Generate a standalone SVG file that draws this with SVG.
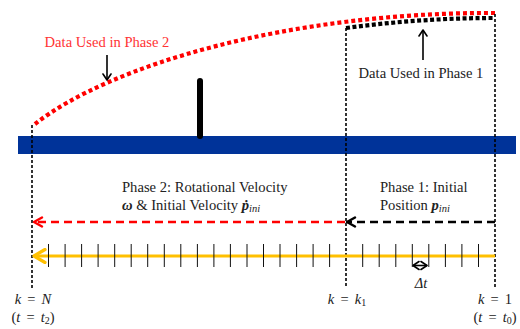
<svg xmlns="http://www.w3.org/2000/svg" width="520" height="329" viewBox="0 0 520 329">
<style>
.t{font-family:"Liberation Serif","Times New Roman",serif;font-size:14.6px;fill:#222}
.m{font-family:"Liberation Serif","Times New Roman",serif;font-size:14.5px;fill:#222;word-spacing:2.5px}
.i{font-style:italic}
.b{font-weight:bold;font-style:italic}
.vd{stroke:#000;stroke-width:1.6;stroke-dasharray:3 2;fill:none}
.tick{stroke:#111;stroke-width:1}
</style>
<defs>
<marker id="arRed" markerUnits="userSpaceOnUse" markerWidth="14" markerHeight="14" viewBox="0 0 14 14" refX="12" refY="7" orient="auto">
<path d="M4,2.5 L12,7 L4,11.5" fill="none" stroke="#FF0000" stroke-width="2.5" stroke-linecap="round" stroke-linejoin="round"/>
</marker>
<marker id="arBlk" markerUnits="userSpaceOnUse" markerWidth="14" markerHeight="14" viewBox="0 0 14 14" refX="12" refY="7" orient="auto">
<path d="M4,2.5 L12,7 L4,11.5" fill="none" stroke="#000" stroke-width="2.5" stroke-linecap="round" stroke-linejoin="round"/>
</marker>
<marker id="arYel" markerUnits="userSpaceOnUse" markerWidth="16" markerHeight="16" viewBox="0 0 16 16" refX="14" refY="8" orient="auto">
<path d="M3,1.5 L14,8 L3,14.5" fill="none" stroke="#FFC000" stroke-width="3.2" stroke-linecap="round" stroke-linejoin="round"/>
</marker>
<marker id="arThin" markerUnits="userSpaceOnUse" markerWidth="12" markerHeight="12" viewBox="0 0 12 12" refX="11" refY="6" orient="auto-start-reverse">
<path d="M5,2 L11,6 L5,10" fill="none" stroke="#000" stroke-width="1.6" stroke-linecap="round" stroke-linejoin="round"/>
</marker>
</defs>
<rect width="520" height="329" fill="#fff"/>

<g id="track">
<rect x="18" y="136" width="498" height="18" fill="#003399"/>
<line x1="200" y1="81" x2="200" y2="136" stroke="#000" stroke-width="6" stroke-linecap="round"/>
</g>

<g id="data-curves">
<path d="M35,124 C110,65 290,12 495,13" fill="none" stroke="#FF0000" stroke-width="4.2" stroke-dasharray="4 3"/>
<path d="M346,28 Q420,18 495,18" fill="none" stroke="#000" stroke-width="4.2" stroke-dasharray="4 2.5"/>
</g>

<g id="label-phase2-data">
<text class="t" x="107" y="47" text-anchor="middle" style="fill:#FF3333">Data Used in Phase 2</text>
<line x1="107" y1="55" x2="107" y2="80" stroke="#000" stroke-width="1.6" marker-end="url(#arThin)"/>
</g>

<g id="label-phase1-data">
<text class="t" x="421" y="78" text-anchor="middle">Data Used in Phase 1</text>
<line x1="423" y1="60" x2="423" y2="30" stroke="#000" stroke-width="1.6" marker-end="url(#arThin)"/>
</g>

<g id="connectors">
<line class="vd" x1="32" y1="125" x2="32" y2="288"/>
<line class="vd" x1="346" y1="28" x2="346" y2="288"/>
<line class="vd" x1="495" y1="14" x2="495" y2="288"/>
<line x1="345" y1="222" x2="34" y2="222" stroke="#FF0000" stroke-width="2.5" stroke-dasharray="8 5" marker-end="url(#arRed)"/>
<line x1="495" y1="222" x2="347" y2="222" stroke="#000" stroke-width="2.5" stroke-dasharray="8 5" marker-end="url(#arBlk)"/>
<line x1="495" y1="256" x2="34" y2="256" stroke="#FFC000" stroke-width="3.2" marker-end="url(#arYel)"/>
<line x1="413" y1="265.5" x2="427" y2="265.5" stroke="#000" stroke-width="1.6" marker-start="url(#arThin)" marker-end="url(#arThin)"/>
</g>

<g id="ticks">
<line class="tick" x1="48.5" y1="244" x2="48.5" y2="267"/>
<line class="tick" x1="65.1" y1="244" x2="65.1" y2="267"/>
<line class="tick" x1="81.6" y1="244" x2="81.6" y2="267"/>
<line class="tick" x1="98.1" y1="244" x2="98.1" y2="267"/>
<line class="tick" x1="114.7" y1="244" x2="114.7" y2="267"/>
<line class="tick" x1="131.2" y1="244" x2="131.2" y2="267"/>
<line class="tick" x1="147.7" y1="244" x2="147.7" y2="267"/>
<line class="tick" x1="164.3" y1="244" x2="164.3" y2="267"/>
<line class="tick" x1="180.8" y1="244" x2="180.8" y2="267"/>
<line class="tick" x1="197.4" y1="244" x2="197.4" y2="267"/>
<line class="tick" x1="213.9" y1="244" x2="213.9" y2="267"/>
<line class="tick" x1="230.4" y1="244" x2="230.4" y2="267"/>
<line class="tick" x1="247" y1="244" x2="247" y2="267"/>
<line class="tick" x1="263.5" y1="244" x2="263.5" y2="267"/>
<line class="tick" x1="280" y1="244" x2="280" y2="267"/>
<line class="tick" x1="296.6" y1="244" x2="296.6" y2="267"/>
<line class="tick" x1="313.1" y1="244" x2="313.1" y2="267"/>
<line class="tick" x1="329.6" y1="244" x2="329.6" y2="267"/>
<line class="tick" x1="362.7" y1="244" x2="362.7" y2="267"/>
<line class="tick" x1="379.2" y1="244" x2="379.2" y2="267"/>
<line class="tick" x1="395.8" y1="244" x2="395.8" y2="267"/>
<line class="tick" x1="412.3" y1="244" x2="412.3" y2="267"/>
<line class="tick" x1="428.8" y1="244" x2="428.8" y2="267"/>
<line class="tick" x1="445.4" y1="244" x2="445.4" y2="267"/>
<line class="tick" x1="461.9" y1="244" x2="461.9" y2="267"/>
<line class="tick" x1="478.5" y1="244" x2="478.5" y2="267"/>
</g>

<g id="phase2-label">
<text class="t" x="122" y="192">Phase 2: Rotational Velocity</text>
<text class="t" x="122" y="210"><tspan class="b">ω</tspan> &amp; Initial Velocity <tspan class="b">ṗ</tspan><tspan class="i" font-size="10.5" dy="2">ini</tspan></text>
</g>

<g id="phase1-label">
<text class="t" x="380" y="192">Phase 1: Initial</text>
<text class="t" x="380" y="210">Position <tspan class="b">p</tspan><tspan class="i" font-size="10.5" dy="2">ini</tspan></text>
</g>

<g id="dt-label">
<text class="m i" x="421" y="288" text-anchor="middle" font-size="16">Δt</text>
</g>

<g id="kN-label">
<text class="m" x="33" y="304" text-anchor="middle"><tspan class="i">k</tspan> = <tspan class="i">N</tspan></text>
<text class="m" x="33" y="322" text-anchor="middle">(<tspan class="i">t</tspan> = <tspan class="i">t</tspan><tspan font-size="10" dy="2">2</tspan><tspan dy="-2">)</tspan></text>
</g>

<g id="kk1-label">
<text class="m" x="347" y="304" text-anchor="middle"><tspan class="i">k</tspan> = <tspan class="i">k</tspan><tspan font-size="10" dy="2">1</tspan></text>
</g>

<g id="k1-label">
<text class="m" x="495" y="304" text-anchor="middle"><tspan class="i">k</tspan> = 1</text>
<text class="m" x="495" y="322" text-anchor="middle">(<tspan class="i">t</tspan> = <tspan class="i">t</tspan><tspan font-size="10" dy="2">0</tspan><tspan dy="-2">)</tspan></text>
</g>
</svg>
